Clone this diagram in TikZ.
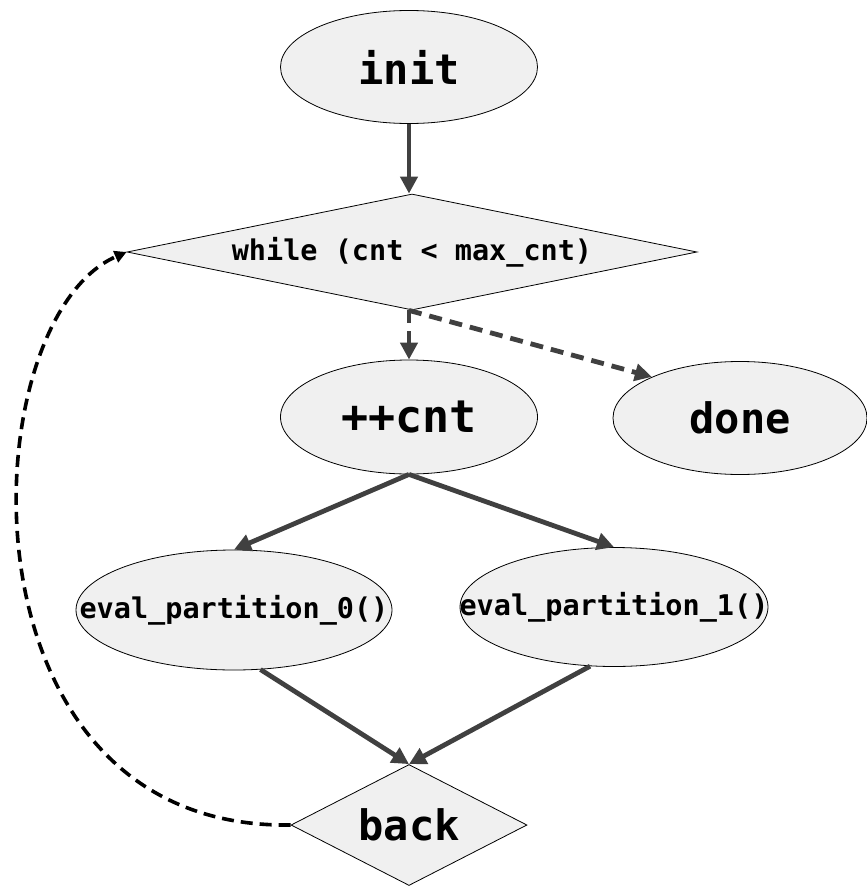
\documentclass[tikz,border=0pt]{standalone}
\usepackage{fontspec}
\setmonofont{DejaVu Sans Mono}
\usetikzlibrary{shapes.geometric,arrows.meta}
\definecolor{nodefill}{HTML}{F0F0F0}
\definecolor{arrowgray}{HTML}{404040}
\tikzset{
  ell/.style={ellipse, draw=black, line width=0.8pt, fill=nodefill, inner sep=0pt},
  dia/.style={diamond, draw=black, line width=0.8pt, fill=nodefill, inner sep=0pt},
  bigtxt/.style={font=\ttfamily\bfseries\fontsize{42}{44}\selectfont},
  midtxt/.style={font=\ttfamily\bfseries\fontsize{28.5}{30}\selectfont},
  flow/.style={draw=arrowgray, line width=4.8pt, -{Triangle[length=17pt,width=17pt]}},
  flowdash/.style={flow, dash pattern=on 13pt off 8pt},
  loopback/.style={draw=black, line width=3.6pt, dash pattern=on 12pt off 7pt, -{Triangle[length=12pt,width=12pt]}}
}
\begin{document}
\begin{tikzpicture}[x=1pt,y=-1pt]
\path[use as bounding box] (0,0) rectangle (867,886);
\node[ell, bigtxt, minimum width=257pt, minimum height=113pt] (init) at (409,67) {\makebox[0pt]{init}};
\node[dia, midtxt, aspect=5, minimum width=570pt, minimum height=116pt] (while) at (412,252) {\makebox[0pt]{while (cnt < max\_cnt)}};
\node[ell, bigtxt, minimum width=257pt, minimum height=114pt] (cnt) at (409,417) {\makebox[0pt]{\fontsize{45}{46}\selectfont ++cnt}};
\node[ell, bigtxt, minimum width=254pt, minimum height=113pt] (done) at (740,418) {\makebox[0pt]{done}};
\node[ell, midtxt, minimum width=316pt, minimum height=120pt] (e0) at (234,610) {\makebox[0pt]{eval\_partition\_0()}};
\node[ell, midtxt, minimum width=308pt, minimum height=119pt] (e1) at (614,607) {\makebox[0pt]{eval\_partition\_1()}};
\node[dia, bigtxt, aspect=2, minimum width=236pt, minimum height=121pt] (back) at (409,825) {\makebox[0pt]{back}};

\draw[flow] (init.south) -- (while.north -| init.south);
\draw[flowdash] (while.south -| cnt.north) -- (cnt.north);
\draw[flowdash] (while.south -| cnt.north) -- (done.155);
\draw[flow] (cnt.south) -- (e0.north);
\draw[flow] (cnt.south) -- (e1.north);
\draw[flow] (e0.-66) -- (back.north);
\draw[flow] (e1.-112) -- (back.north);
\draw[loopback] (back.west) .. controls (-50,830) and (-30,320) .. (while.west);
\end{tikzpicture}
\end{document}
